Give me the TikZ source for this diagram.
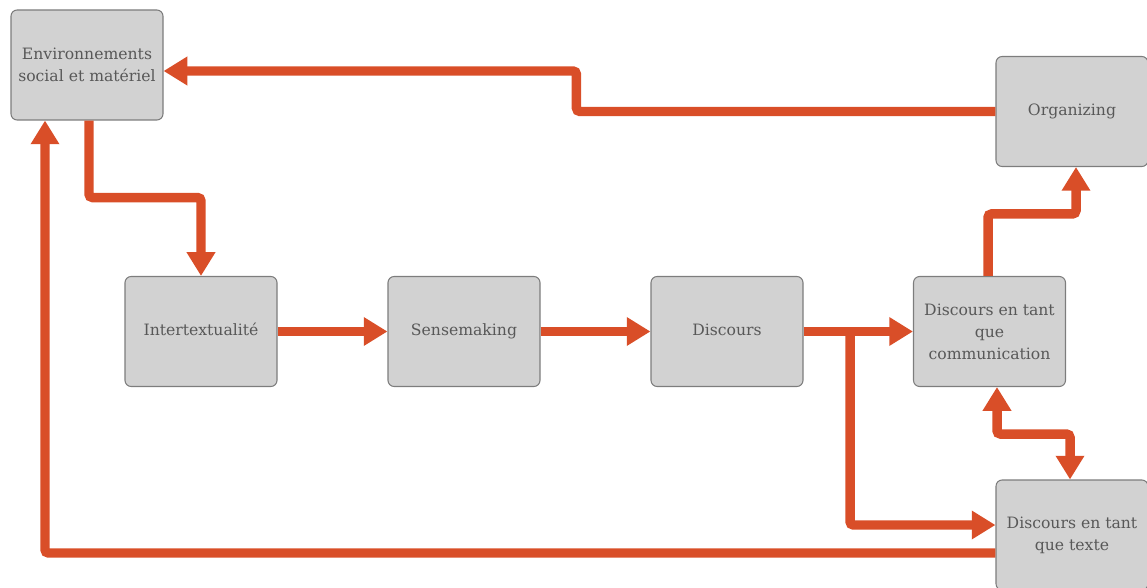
\documentclass[tikz,border=0pt]{standalone}
\usepackage{fontspec}
\setmainfont{DejaVu Serif}
\usetikzlibrary{arrows.meta}
\definecolor{flowred}{RGB}{217,78,40}
\definecolor{boxgray}{RGB}{210,210,210}
\definecolor{boxline}{RGB}{125,125,125}
\definecolor{txtgray}{RGB}{88,88,88}
\begin{document}
\begin{tikzpicture}[
	box/.style = {rectangle, rounded corners=3.5pt, draw=boxline, line width=0.6pt, fill=boxgray,
		minimum width=3.04cm, minimum height=2.2cm, align=center, text=txtgray,
		font=\fontsize{8.9}{12.5}\selectfont},
	flow/.style = {draw=flowred, line width=5.4pt, rounded corners=2pt,
		-{Triangle[width=15.5pt,length=13.5pt]}},
	flowboth/.style = {flow, {Triangle[width=15.5pt,length=13.5pt]}-{Triangle[width=15.5pt,length=13.5pt]}}]
	\useasboundingbox (0,0) rectangle (22.94,11.74);
	\node (Env)   at ( 1.74, 10.44)	[box]	{Environnements\\social et matériel};
	\node (Org)   at (21.44,  9.51)	[box]	{Organizing\strut};
	\node (Inter) at ( 4.02,  5.11)	[box]	{Intertextualité\strut};
	\node (Sense) at ( 9.28,  5.11)	[box]	{Sensemaking\strut};
	\node (Disc)  at (14.54,  5.11)	[box]	{Discours\strut};
	\node (Comm)  at (19.79,  5.11)	[box]	{Discours en tant\\que\\communication};
	\node (Txt)   at (21.44,  1.04)	[box]	{Discours en tant\\que texte};
	\coordinate (split) at (17.00, 5.11);
	\draw[flow] (Org.west) -- ++(-8.38,0) |- ([yshift=-0.12cm]Env.east);
	\draw[flow] ([xshift=0.04cm]Env.south) -- ++(0,-1.54) -| (Inter.north);
	\draw[flow] (Inter) -- (Sense);
	\draw[flow] (Sense) -- (Disc);
	\draw[flow] (Disc) -- (Comm);
	\draw[flow] (split) |- ([yshift=0.2cm]Txt.west);
	\draw[flow] ([xshift=-0.03cm]Comm.north) -- ++(0,1.24) -| ([xshift=0.08cm]Org.south);
	\draw[flowboth] ([xshift=0.15cm]Comm.south) -- ++(0,-0.94) -| ([xshift=-0.04cm]Txt.north);
	\draw[flow] ([yshift=-0.36cm]Txt.west) -| ([xshift=-0.84cm]Env.south);
\end{tikzpicture}
\end{document}
